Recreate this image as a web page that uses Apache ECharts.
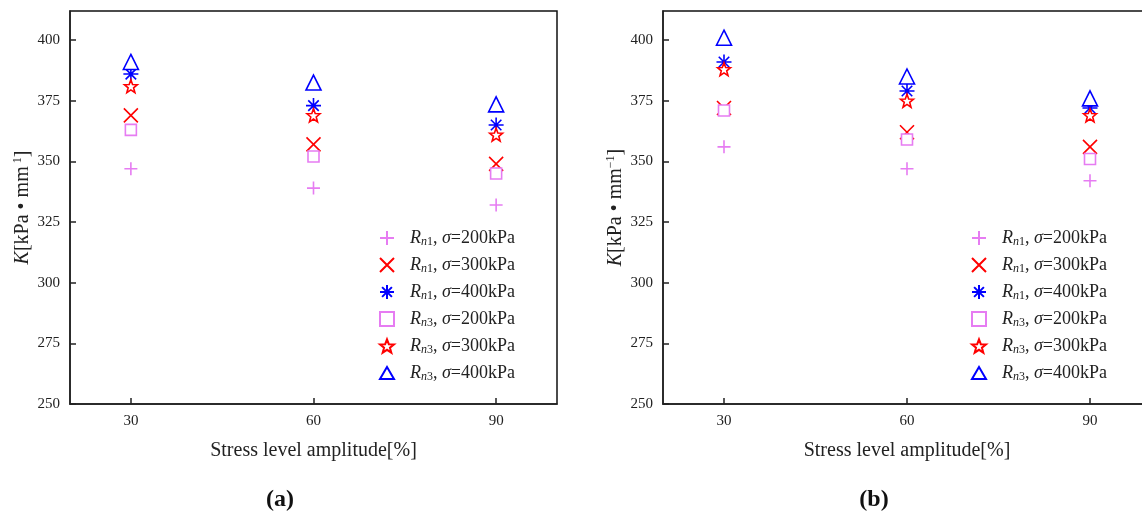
<!DOCTYPE html>
<html>
<head>
<meta charset="utf-8">
<script src="https://cdn.jsdelivr.net/npm/echarts@6/dist/echarts.min.js"></script>
<style>
  html, body { margin: 0; padding: 0; background: #fff; }
  #main { width: 1142px; height: 516px; }
</style>
</head>
<body>
<div id="main"></div>
<script>
// stress level amplitude (x) and tick values
var xCats = [30, 60, 90];
var yTicks = [250, 275, 300, 325, 350, 375, 400];

// series labels
var seriesNames = ['Rn1, σ=200kPa', 'Rn1, σ=300kPa', 'Rn1, σ=400kPa',
                   'Rn3, σ=200kPa', 'Rn3, σ=300kPa', 'Rn3, σ=400kPa'];
var subIdx = ['1', '1', '1', '3', '3', '3'];
var stress = [200, 300, 400, 200, 300, 400];

// panel (a)
var a_n1_200 = [347, 339, 332];
var a_n1_300 = [369, 357, 349];
var a_n1_400 = [386, 373, 365];
var a_n3_200 = [363, 352, 345];
var a_n3_300 = [381, 369, 361];
var a_n3_400 = [391, 382.5, 373.5];

// panel (b)
var b_n1_200 = [356, 347, 342];
var b_n1_300 = [372, 362, 356];
var b_n1_400 = [391, 379, 372];
var b_n3_200 = [371, 359, 351];
var b_n3_300 = [388, 375, 369];
var b_n3_400 = [401, 385, 376];

var VIOLET = '#e67cf2', RED = '#ff0000', BLUE = '#0000ff';
var FONT = 'Liberation Serif';

// marker look per series (plus, cross, asterisk, square, star, triangle)
var markers = [
    {symbol: 'path://M10 0L10 20M0 10L20 10', size: 13, color: VIOLET},
    {symbol: 'path://M0 0L20 20M20 0L0 20', size: 14, color: RED},
    {symbol: 'path://M10 0L10 20M0 10L20 10M3 3L17 17M17 3L3 17', size: 15, color: BLUE},
    {symbol: 'path://M0 0L10 0L10 10L0 10Z', size: 11, color: VIOLET},
    {symbol: 'path://M10 0L12.47 6.6L19.51 6.91L13.99 11.3L15.88 18.09L10 14.2L4.12 18.09L6.01 11.3L0.49 6.91L7.53 6.6Z', size: 13, color: RED},
    {symbol: 'path://M10 0L20 17L0 17Z', size: 15, color: BLUE}
];

var panelA = [a_n1_200, a_n1_300, a_n1_400, a_n3_200, a_n3_300, a_n3_400];
var panelB = [b_n1_200, b_n1_300, b_n1_400, b_n3_200, b_n3_300, b_n3_400];

function makeSeries(values, idx, axis) {
    var m = markers[idx];
    return {
        name: seriesNames[idx],
        type: 'scatter',
        xAxisIndex: axis,
        yAxisIndex: axis,
        symbol: m.symbol,
        symbolSize: m.size,
        data: xCats.map(function (x, i) { return [x, values[i]]; }),
        itemStyle: {color: '#fff', borderColor: m.color, borderWidth: 1.6, opacity: 1},
        emphasis: {disabled: true},
        animation: false
    };
}

var series = [];
panelA.forEach(function (v, i) { series.push(makeSeries(v, i, 0)); });
panelB.forEach(function (v, i) { series.push(makeSeries(v, i, 1)); });

var axisColor = '#222';
function xAxisCfg(grid) {
    return {
        type: 'value', gridIndex: grid, min: 20, max: 100,
        name: 'Stress level amplitude[%]', nameLocation: 'middle', nameGap: 37,
        nameTextStyle: {fontFamily: FONT, fontSize: 20, color: '#222'},
        axisLine: {lineStyle: {color: axisColor, width: 1.5}},
        axisTick: {inside: true, length: 6, customValues: xCats, lineStyle: {color: axisColor, width: 1.5}},
        axisLabel: {customValues: xCats, margin: 10, fontFamily: FONT, fontSize: 15, color: '#222'},
        splitLine: {show: false}
    };
}

function yAxisCfg(grid, sup) {
    return {
        type: 'value', gridIndex: grid, min: 250, max: 412,
        name: '{k|K}{t|[kPa • mm}{sup|' + sup + '}{t|]}',
        nameLocation: 'middle', nameGap: 36,
        nameTextStyle: {
            fontFamily: FONT, fontSize: 20, color: '#222',
            rich: {
                k: {fontFamily: FONT, fontSize: 20, fontStyle: 'italic', lineHeight: 22, color: '#222'},
                t: {fontFamily: FONT, fontSize: 20, lineHeight: 22, color: '#222'},
                sup: {fontFamily: FONT, fontSize: 12, lineHeight: 12, verticalAlign: 'top', color: '#222'}
            }
        },
        axisLine: {show: true, lineStyle: {color: axisColor, width: 1.5}},
        axisTick: {show: true, inside: true, length: 6, customValues: yTicks, lineStyle: {color: axisColor, width: 1.5}},
        axisLabel: {customValues: yTicks, margin: 10, fontFamily: FONT, fontSize: 15, color: '#222'},
        splitLine: {show: false}
    };
}

var legendRich = {
    g: {width: 11},
    R: {fontFamily: FONT, fontSize: 18, fontStyle: 'italic', lineHeight: 20, color: '#222'},
    n: {fontFamily: FONT, fontSize: 12, fontStyle: 'italic', lineHeight: 12, verticalAlign: 'bottom', color: '#222'},
    d: {fontFamily: FONT, fontSize: 12, lineHeight: 12, verticalAlign: 'bottom', color: '#222'},
    s: {fontFamily: FONT, fontSize: 18, fontStyle: 'italic', lineHeight: 20, color: '#222'},
    t: {fontFamily: FONT, fontSize: 18, lineHeight: 20, color: '#222'}
};

function legendFormatter(name) {
    var i = seriesNames.indexOf(name);
    return '{g|}{R|R}{n|n}{d|' + subIdx[i] + '}{t|, }{s|σ}{t|=' + stress[i] + 'kPa}';
}

function legendCfg(left) {
    return {
        orient: 'vertical', left: left, top: 229, padding: 0,
        itemWidth: 14, itemHeight: 14, itemGap: 8,
        selectedMode: false,
        data: seriesNames,
        formatter: legendFormatter,
        textStyle: {fontFamily: FONT, fontSize: 18, color: '#222', rich: legendRich}
    };
}

var captionRich = {
    p: {fontFamily: FONT, fontSize: 24, color: '#111'},
    b: {fontFamily: FONT, fontSize: 24, fontWeight: 'bold', color: '#111'}
};

var myChart = echarts.init(document.getElementById('main'));
var option = {
    backgroundColor: '#fff',
    animation: false,
    title: [
        {text: '{p|(}{b|a}{p|)}', left: 275, top: 483, textAlign: 'center', textStyle: {rich: captionRich}},
        {text: '{p|(}{b|b}{p|)}', left: 869, top: 483, textAlign: 'center', textStyle: {rich: captionRich}}
    ],
    grid: [
        {left: 70, top: 11, width: 487, height: 393, show: true, borderColor: '#111', borderWidth: 1.5,
         backgroundColor: 'transparent', outerBoundsMode: 'none'},
        {left: 663, top: 11, width: 488, height: 393, show: true, borderColor: '#111', borderWidth: 1.5,
         backgroundColor: 'transparent', outerBoundsMode: 'none'}
    ],
    xAxis: [xAxisCfg(0), xAxisCfg(1)],
    yAxis: [yAxisCfg(0, ' 1'), yAxisCfg(1, '−1')],
    legend: [legendCfg(379), legendCfg(971)],
    series: series
};
myChart.setOption(option);
</script>
</body>
</html>
